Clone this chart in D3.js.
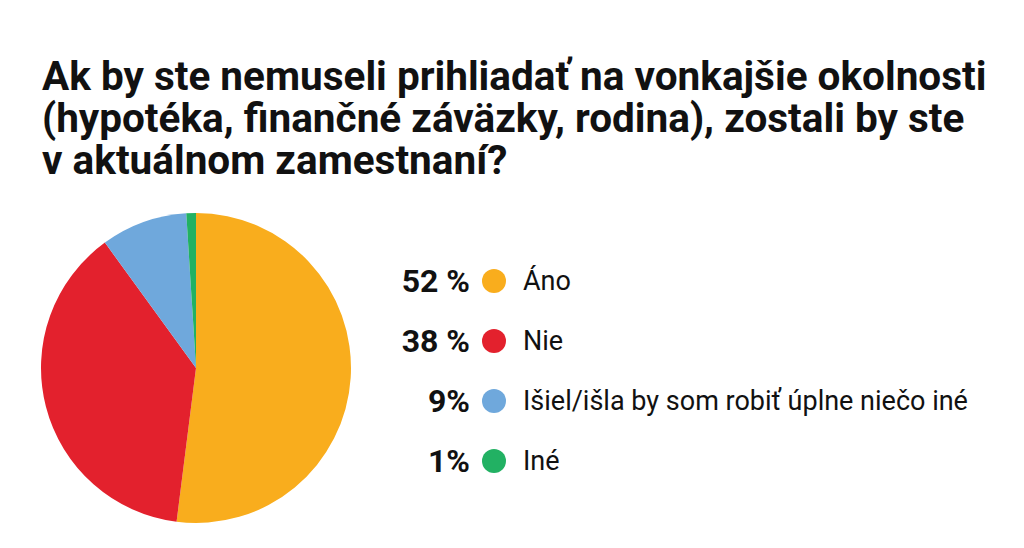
<!DOCTYPE html>
<html>
<head>
<meta charset="utf-8">
<script src="https://cdn.jsdelivr.net/npm/d3@7"></script>
<style>
body { margin: 0; background: #fff; }
svg { font-family: Roboto, sans-serif; }
</style>
</head>
<body>
<div id="wrapper"></div>
<script>
let titleLines = ["Ak by ste nemuseli prihliadať na vonkajšie okolnosti",
    "(hypotéka, finančné záväzky, rodina), zostali by ste",
    "v aktuálnom zamestnaní?"];
let categories = ["Áno", "Nie", "Išiel/išla by som robiť úplne niečo iné", "Iné"];
let values = [52, 38, 9, 1];
let valueLabels = ["52 %", "38 %", "9%", "1%"];
let colors = ["#F9AD1D", "#E3212D", "#6FA8DC", "#22B163"];

let svg = d3.select("#wrapper").append("svg")
    .attr("width", 1024).attr("height", 548);

svg.selectAll("text.title").data(titleLines).enter()
    .append("text").classed("title", true)
    .attr("x", 42)
    .attr("y", (d, i) => 90 + i * 42)
    .attr("font-size", 40.5)
    .attr("font-weight", "bold")
    .attr("fill", "#111")
    .text(d => d);

let pie = d3.pie().sort(null).value(d => d);
let arc = d3.arc().innerRadius(0).outerRadius(155);

svg.append("g").attr("transform", "translate(196,368)")
    .selectAll("path").data(pie(values)).enter()
    .append("path")
    .attr("d", arc)
    .attr("fill", (d, i) => colors[i]);

let y = d3.scalePoint().domain(categories).range([281, 461]);

let legend = svg.append("g").selectAll("g").data(categories).enter()
    .append("g")
    .attr("transform", d => "translate(0," + y(d) + ")");

legend.append("text")
    .attr("x", 470).attr("dy", "0.35em")
    .attr("text-anchor", "end")
    .attr("font-size", 32).attr("font-weight", "bold").attr("fill", "#111")
    .text((d, i) => valueLabels[i]);

legend.append("circle")
    .attr("cx", 494).attr("r", 12)
    .attr("fill", (d, i) => colors[i]);

legend.append("text")
    .attr("x", 523).attr("dy", "0.35em")
    .attr("font-size", 27).attr("fill", "#111")
    .text(d => d);
</script>
</body>
</html>
